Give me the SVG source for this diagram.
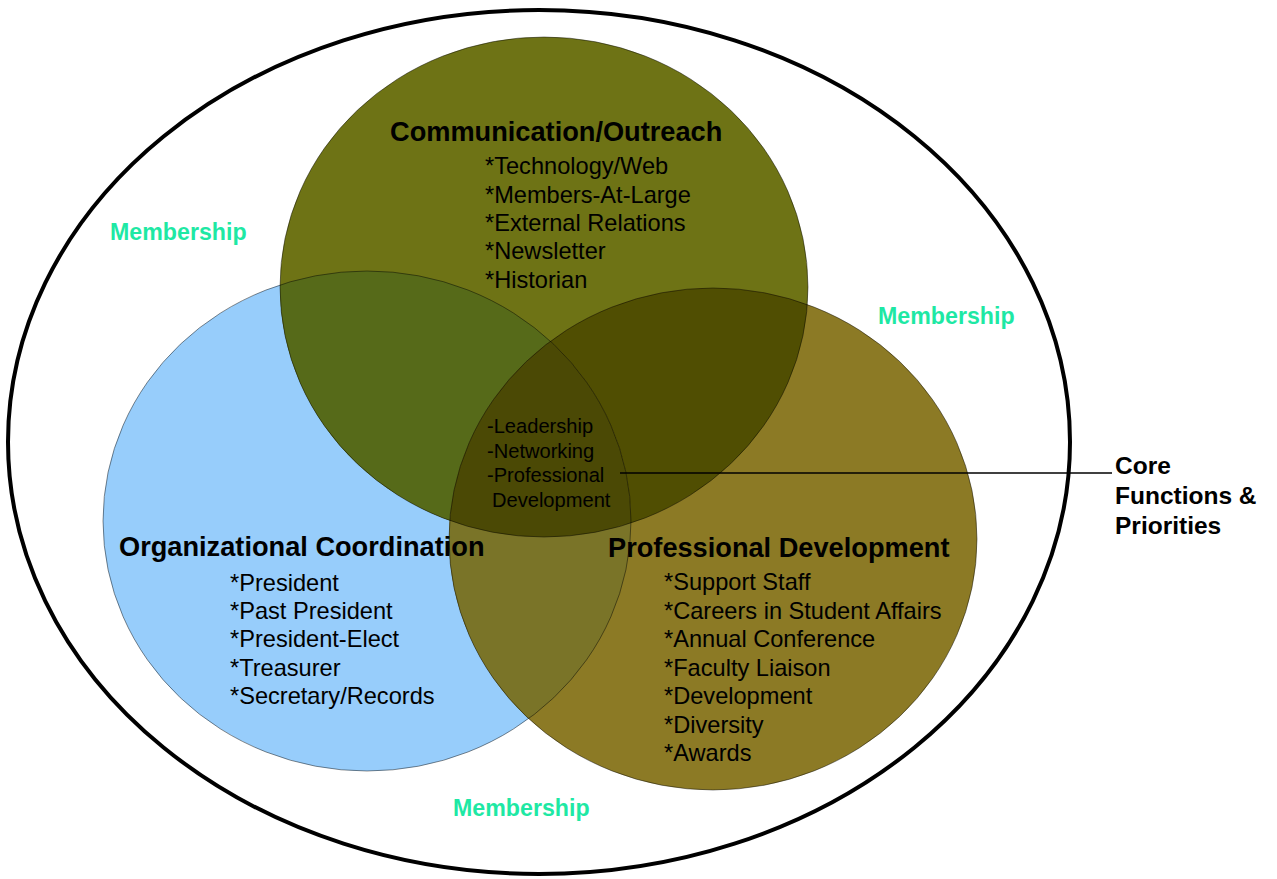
<svg xmlns="http://www.w3.org/2000/svg" width="1277" height="879" viewBox="0 0 1277 879">
<style>
.t{font-family:"Liberation Sans",Arial,sans-serif;fill:#000}
.title{font-size:27.2px;font-weight:bold}
.item{font-size:23.6px}
.core{font-size:20.1px}
.mem{font-family:"Liberation Sans",Arial,sans-serif;font-size:23.2px;font-weight:bold;fill:#1EE8A4}
.lbl{font-size:24.5px;font-weight:bold}
.edge{fill:none;stroke:#000;stroke-opacity:0.45;stroke-width:1}
</style>
<defs>
<clipPath id="cG"><ellipse cx="544" cy="287" rx="264" ry="250"/></clipPath>
<clipPath id="cB"><ellipse cx="367" cy="521" rx="264" ry="250"/></clipPath>
<clipPath id="cR"><ellipse cx="713" cy="539" rx="264" ry="251"/></clipPath>
</defs>
<rect width="1277" height="879" fill="#fff"/>
<g id="membership">
<ellipse cx="539" cy="442" rx="531" ry="432" fill="none" stroke="#000" stroke-width="4"/>
<text class="mem" x="110" y="240">Membership</text>
<text class="mem" x="878" y="324">Membership</text>
<text class="mem" x="453" y="816">Membership</text>
</g>
<g id="circles">
<ellipse cx="367" cy="521" rx="264" ry="250" fill="#97CDFB"/>
<ellipse cx="544" cy="287" rx="264" ry="250" fill="#6E7315"/>
<ellipse cx="713" cy="539" rx="264" ry="251" fill="#8C7A25"/>
<g clip-path="url(#cB)"><ellipse cx="544" cy="287" rx="264" ry="250" fill="#566A19"/></g>
<g clip-path="url(#cR)"><ellipse cx="544" cy="287" rx="264" ry="250" fill="#504E02"/></g>
<g clip-path="url(#cR)"><ellipse cx="367" cy="521" rx="264" ry="250" fill="#7A7428"/></g>
<g clip-path="url(#cR)"><g clip-path="url(#cB)"><ellipse cx="544" cy="287" rx="264" ry="250" fill="#4B4905"/></g></g>
<ellipse class="edge" cx="367" cy="521" rx="264" ry="250"/>
<ellipse class="edge" cx="544" cy="287" rx="264" ry="250"/>
<ellipse class="edge" cx="713" cy="539" rx="264" ry="251"/>
</g>
<g id="communication">
<text class="t title" x="390" y="141">Communication/Outreach</text>
<text class="t item" x="485" y="174">*Technology/Web</text>
<text class="t item" x="485" y="203">*Members-At-Large</text>
<text class="t item" x="485" y="231">*External Relations</text>
<text class="t item" x="485" y="259">*Newsletter</text>
<text class="t item" x="485" y="288">*Historian</text>
</g>
<g id="organizational">
<text class="t title" x="119" y="556">Organizational Coordination</text>
<text class="t item" x="230" y="591">*President</text>
<text class="t item" x="230" y="619">*Past President</text>
<text class="t item" x="230" y="647">*President-Elect</text>
<text class="t item" x="230" y="676">*Treasurer</text>
<text class="t item" x="230" y="704">*Secretary/Records</text>
</g>
<g id="professional">
<text class="t title" x="608" y="557">Professional Development</text>
<text class="t item" x="664" y="590">*Support Staff</text>
<text class="t item" x="664" y="619">*Careers in Student Affairs</text>
<text class="t item" x="664" y="647">*Annual Conference</text>
<text class="t item" x="664" y="676">*Faculty Liaison</text>
<text class="t item" x="664" y="704">*Development</text>
<text class="t item" x="664" y="733">*Diversity</text>
<text class="t item" x="664" y="761">*Awards</text>
</g>
<g id="core-center">
<text class="t core" x="487" y="433">-Leadership</text>
<text class="t core" x="487" y="458">-Networking</text>
<text class="t core" x="487" y="482">-Professional</text>
<text class="t core" x="492" y="507">Development</text>
</g>
<g id="connectors">
<line x1="620" y1="473" x2="1112" y2="473" stroke="#000" stroke-width="1.5"/>
</g>
<g id="core-label">
<text class="t lbl" x="1115" y="474">Core</text>
<text class="t lbl" x="1115" y="504">Functions &amp;</text>
<text class="t lbl" x="1115" y="534">Priorities</text>
</g>
</svg>
